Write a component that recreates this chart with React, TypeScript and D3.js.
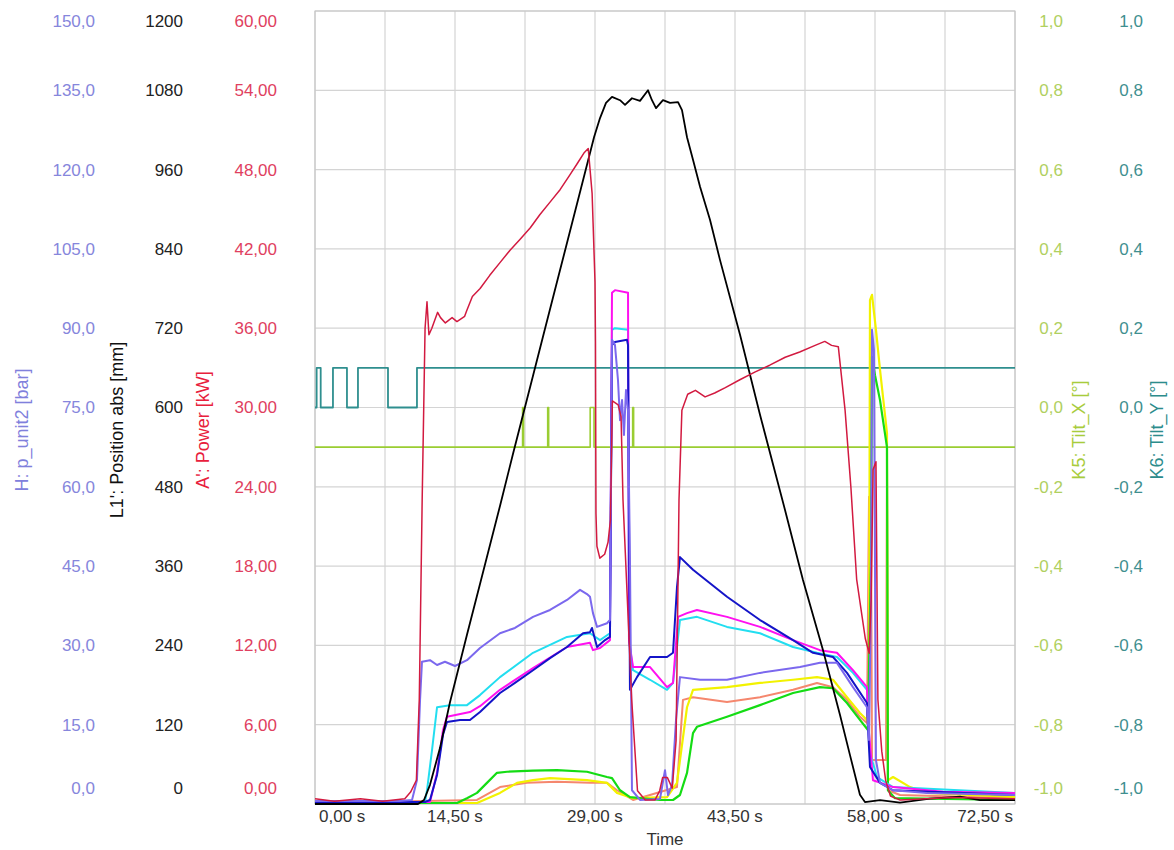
import * as d3 from 'd3'

type Pt = [number, number]

// time [s] / value pairs
const power: Pt[] = [
  [0, 0.4], [2.0, 0.2], [4.7, 0.4], [7.0, 0.2], [9.3, 0.4], [9.9, 0.9], [10.5, 1.8], [10.8, 7.9],
  [11.1, 23.0], [11.4, 36.0], [11.6, 38.0], [11.8, 35.5], [12.1, 36.0], [12.7, 37.2], [13.0, 36.8],
  [13.5, 36.4], [14.2, 36.8], [14.7, 36.5], [15.5, 36.9], [15.7, 37.3], [16.3, 38.4], [17.1, 39.0],
  [18.1, 40.0], [19.2, 41.0], [20.2, 41.9], [21.2, 42.7], [22.3, 43.6], [23.3, 44.6], [24.3, 45.5],
  [25.4, 46.5], [26.4, 47.6], [27.2, 48.5], [27.9, 49.3], [28.3, 49.6], [28.5, 47.9], [28.7, 46.2],
  [28.8, 44.0], [29.0, 39.5], [29.05, 35.0], [29.1, 22.0], [29.2, 19.5], [29.5, 18.6], [30.0, 18.9],
  [30.35, 19.8], [30.6, 21.5], [30.8, 30.5], [31.4, 30.2], [31.7, 29.3], [31.9, 23.0], [32.2, 18.0],
  [32.8, 7.9], [33.4, 1.0], [34.2, 0.3], [35.2, 0.3], [35.7, 1.0], [36.0, 2.0], [36.5, 2.0], [37.0, 1.2],
  [37.4, 4.8], [37.7, 23.0], [38.0, 29.8], [38.6, 31.0], [39.4, 31.3], [40.4, 30.8], [41.4, 31.1],
  [42.5, 31.5], [44.0, 32.1], [45.6, 32.7], [47.1, 33.2], [48.7, 33.8], [50.2, 34.2], [51.8, 34.7],
  [52.8, 35.0], [53.5, 34.7], [54.2, 34.6], [54.9, 29.8], [55.5, 24.0], [56.1, 17.0], [57.0, 12.5],
  [57.4, 11.4], [57.6, 15.4], [57.8, 25.3], [58.1, 25.9], [58.3, 7.9], [58.7, 4.0], [59.1, 1.8],
  [59.6, 0.6], [60.6, 0.3], [66.0, 0.5], [72.5, 0.4],
]

const positionAbs: Pt[] = [
  [0, 0], [10.67, 0], [11.29, 6], [11.91, 29], [12.95, 85], [13.98, 154], [15.74, 256], [17.09, 333],
  [19.16, 451], [20.51, 530], [22.58, 648], [23.61, 707], [25.38, 808], [27.45, 926], [28.9, 1009],
  [29.52, 1038], [30.14, 1061], [30.76, 1070], [31.59, 1065], [32.11, 1058], [32.83, 1068], [33.66, 1064],
  [34.49, 1080], [34.9, 1065], [35.32, 1053], [36.04, 1065], [36.77, 1061], [37.6, 1062], [38.01, 1050],
  [38.53, 1009], [39.15, 975], [39.88, 934], [40.91, 884], [41.95, 823], [44.02, 710], [46.09, 589],
  [48.68, 445], [50.54, 339], [52.61, 233], [54.37, 135], [55.41, 74], [56.44, 14], [56.96, 3],
  [58.52, 6], [60.59, 2], [63.7, 8], [66.8, 11], [68.87, 6], [72.5, 6],
]

const pUnit2: Pt[] = [
  [0, 0.57], [8.8, 0.57], [10.05, 0.76], [10.56, 4.54], [10.88, 19.7], [11.08, 26.9], [11.91, 27.2],
  [12.64, 26.3], [13.46, 26.9], [14.5, 26.1], [15.74, 27.2], [17.09, 29.5], [19.16, 32.3], [20.71, 33.3],
  [22.58, 35.4], [24.34, 36.7], [26.1, 38.6], [27.45, 40.5], [28.17, 39.7], [28.48, 39.2], [28.79, 36.1],
  [29.21, 33.5], [30.24, 34.2], [30.55, 34.8], [30.76, 87.8], [31.07, 86.8], [31.38, 80.2], [31.59, 72.6],
  [31.8, 76.4], [32.0, 69.8], [32.21, 78.3], [32.42, 74.5], [32.62, 46.2], [32.83, 2.6], [33.66, 0.76],
  [35.73, 0.95], [36.25, 6.4], [36.56, 1.7], [36.98, 3.6], [37.39, 15.9], [37.8, 24.0], [39.88, 23.5],
  [42.67, 23.5], [46.09, 24.8], [50.23, 25.9], [52.3, 26.7], [54.06, 26.7], [55.72, 22.1], [57.17, 18.3],
  [57.38, 12.1], [57.58, 38.6], [57.69, 89.7], [57.89, 85.9], [58.1, 8.3], [58.52, 4.0], [59.87, 2.6],
  [63.39, 2.1], [72.5, 1.7],
]

const chBlue: Pt[] = [
  [0, 0.38], [11.39, 0.38], [11.91, 0.76], [12.64, 5.5], [13.26, 13.1], [13.67, 15.5], [15.02, 15.9],
  [16.05, 15.9], [17.09, 17.4], [19.16, 21.0], [20.71, 22.9], [22.58, 25.3], [24.34, 27.6], [26.1, 29.7],
  [27.76, 32.3], [28.48, 32.5], [28.69, 33.3], [29.21, 29.7], [30.04, 31.0], [30.55, 31.6], [30.76, 86.8],
  [31.07, 87.4], [32.31, 87.8], [32.42, 86.8], [32.62, 21.6], [33.35, 24.0], [34.7, 27.8], [36.46, 27.8],
  [37.08, 28.6], [37.49, 41.0], [37.8, 46.7], [39.15, 44.3], [42.67, 39.2], [46.09, 34.8], [49.51, 31.0],
  [51.58, 28.6], [53.65, 27.8], [55.1, 24.8], [57.17, 19.1], [57.27, 14.6], [57.48, 7.0], [58.52, 4.0],
  [59.87, 2.6], [72.5, 1.7],
]

const chMagenta: Pt[] = [
  [0, 0.38], [11.91, 0.38], [12.64, 5.9], [13.26, 14.0], [13.67, 16.5], [16.05, 17.4], [17.09, 18.5],
  [19.16, 21.6], [22.58, 25.7], [26.1, 29.7], [28.48, 30.5], [28.79, 29.1], [29.52, 29.5], [30.55, 31.0],
  [30.76, 96.7], [31.07, 97.2], [32.42, 96.7], [32.52, 31.0], [32.94, 25.9], [34.7, 25.9], [36.46, 22.1],
  [37.08, 22.9], [37.6, 35.4], [38.53, 36.1], [39.56, 36.7], [42.67, 35.4], [46.09, 33.5], [49.51, 31.0],
  [52.3, 29.1], [54.06, 28.6], [55.72, 25.3], [57.17, 22.1], [57.27, 15.9], [57.79, 4.5], [59.87, 3.2],
  [65.04, 2.3], [72.5, 2.1],
]

const chCyan: Pt[] = [
  [0, 0.38], [11.39, 0.38], [11.6, 2.6], [12.12, 10.2], [12.64, 18.3], [13.98, 18.7], [15.74, 18.7],
  [17.09, 20.6], [19.16, 24.0], [22.58, 28.6], [26.1, 31.6], [28.48, 32.3], [29.52, 31.0], [30.55, 32.3],
  [30.76, 89.7], [31.07, 90.0], [32.42, 89.7], [32.52, 31.0], [32.94, 25.3], [34.7, 23.5], [36.46, 21.6],
  [37.08, 22.9], [37.8, 34.8], [39.56, 35.4], [42.67, 33.5], [46.09, 32.3], [49.51, 29.7], [51.99, 28.6],
  [54.06, 27.8], [55.72, 24.8], [57.17, 21.6], [57.48, 9.6], [58.21, 5.1], [59.87, 3.2], [72.5, 2.1],
]

const chGreen: Pt[] = [
  [0, 0.19], [14.71, 0.19], [15.74, 1.1], [16.78, 2.1], [17.81, 4.0], [18.85, 5.9], [19.89, 6.1],
  [22.58, 6.3], [25.06, 6.4], [28.17, 6.1], [30.24, 5.1], [30.76, 4.9], [31.59, 2.6], [32.62, 1.3],
  [35.73, 0.76], [37.08, 0.76], [37.8, 1.7], [38.53, 5.9], [39.15, 13.4], [39.56, 14.6], [42.67, 16.5],
  [46.09, 18.7], [49.51, 21.0], [52.3, 22.1], [53.65, 21.9], [55.1, 19.1], [56.44, 15.9], [57.27, 14.0],
  [57.58, 46.2], [57.69, 84.6], [58.0, 81.1], [58.52, 76.4], [59.24, 67.5], [59.34, 2.6], [60.07, 1.1],
  [72.5, 0.76],
]

const chYellow: Pt[] = [
  [0, 0.19], [16.78, 0.19], [19.16, 2.1], [20.92, 4.0], [22.58, 4.5], [24.34, 4.9], [28.17, 4.5],
  [30.24, 4.0], [31.28, 2.1], [32.94, 1.1], [36.46, 1.3], [37.49, 4.0], [38.53, 18.3], [39.15, 21.6],
  [42.67, 22.1], [46.09, 22.9], [49.51, 23.5], [51.99, 24.0], [53.65, 23.5], [55.1, 20.2], [56.44, 17.2],
  [57.17, 15.9], [57.38, 19.7], [57.48, 95.3], [57.69, 96.3], [58.1, 89.7], [58.52, 82.1], [59.24, 70.2],
  [59.34, 4.5], [59.87, 5.1], [61.63, 3.2], [63.39, 2.1], [72.5, 1.3],
]

const chSalmon: Pt[] = [
  [0, 0.19], [16.78, 0.76], [19.16, 3.2], [21.96, 4.0], [25.06, 4.2], [28.48, 4.0], [30.24, 4.0],
  [31.28, 2.6], [32.94, 0.76], [37.49, 3.2], [38.11, 19.7], [39.15, 20.2], [42.67, 19.3], [46.09, 20.2],
  [49.51, 21.6], [51.99, 22.9], [53.65, 22.1], [55.1, 19.7], [56.44, 16.5], [57.17, 15.3], [57.38, 58.1],
  [57.58, 58.1], [57.69, 8.3], [59.14, 8.3], [59.24, 66.4], [59.34, 2.6], [60.59, 1.7], [72.5, 1.1],
]

// tilt channels are step signals
const tiltX: Pt[] = [
  [0, -0.1], [21.5, 0], [21.6, -0.1], [24.1, 0], [24.2, -0.1], [28.5, 0], [28.9, -0.1], [32.9, 0],
  [33.0, -0.1], [72.5, -0.1],
]
const tiltY: Pt[] = [
  [0, 0], [0.17, 0.1], [0.59, 0], [1.86, 0.1], [3.31, 0], [4.45, 0.1], [7.56, 0], [10.56, 0.1], [72.5, 0.1],
]

const timeLabels = [0, 14.5, 29, 43.5, 58, 72.5]

const loc = d3.formatLocale({
  decimal: ',',
  thousands: '.',
  grouping: [3],
  currency: ['', ''],
  minus: '-',
})

export default function App() {
  const width = 1174
  const height = 850
  const plot = { left: 315, right: 1015, top: 11, bottom: 804 }

  const x = d3.scaleLinear().domain([0, 72.5]).range([plot.left, plot.right])
  const yBar = d3.scaleLinear().domain([0, 150]).range([plot.bottom, plot.top])
  const yMm = d3.scaleLinear().domain([0, 1200]).range([plot.bottom, plot.top])
  const yKw = d3.scaleLinear().domain([0, 60]).range([plot.bottom, plot.top])
  const yTilt = d3.scaleLinear().domain([-1, 1]).range([plot.bottom, plot.top])

  // label y is kept inside the plot frame, like the recorder software does
  const labelY = (y: number) => Math.min(Math.max(y, plot.top + 10), plot.bottom - 16)

  const leftAxes = [
    { scale: yBar, step: 15, fmt: loc.format('.1f'), x: 95, color: '#8686dc', title: 'H: p_unit2 [bar]', tx: 22, tc: '#8080dc' },
    { scale: yMm, step: 120, fmt: loc.format('.0f'), x: 183, color: '#222', title: "L1': Position abs [mm]", tx: 117, tc: '#111' },
    { scale: yKw, step: 6, fmt: loc.format('.2f'), x: 277, color: '#e04060', title: "A': Power [kW]", tx: 203, tc: '#e8203c' },
  ]
  const rightAxes = [
    { scale: yTilt, step: 0.2, fmt: loc.format('.1f'), x: 1063, color: '#b0d060', title: 'K5: Tilt_X [°]', tx: 1079, tc: '#a8cc3c' },
    { scale: yTilt, step: 0.2, fmt: loc.format('.1f'), x: 1143, color: '#3f8f8f', title: 'K6: Tilt_Y [°]', tx: 1157, tc: '#2c8c8c' },
  ]

  const hLines = d3.range(0, 150 + 1, 15).map((v) => yBar(v))
  const vLines = d3.range(0, 72.5 + 0.1, 7.25).map((t) => x(t))

  const line = (ys: d3.ScaleLinear<number, number>) =>
    d3.line<Pt>().x((d) => x(d[0])).y((d) => ys(d[1]))
  const stepLine = d3.line<Pt>().x((d) => x(d[0])).y((d) => yTilt(d[1])).curve(d3.curveStepAfter)
  const timeFmt = loc.format('.2f')

  const series: { data: Pt[]; color: string; w: number }[] = [
    { data: chSalmon, color: '#f5876e', w: 2 },
    { data: chYellow, color: '#f2f200', w: 2.2 },
    { data: chGreen, color: '#14dc14', w: 2.2 },
    { data: chCyan, color: '#22def0', w: 2 },
    { data: chMagenta, color: '#ff10f0', w: 2 },
    { data: chBlue, color: '#1414c8', w: 2 },
    { data: pUnit2, color: '#7b68ee', w: 2 },
  ]

  return (
    <svg
      width={width}
      height={height}
      style={{ position: 'absolute', left: 0, top: 0, background: '#fff' }}
      fontFamily="'Liberation Sans', Arial, sans-serif"
      fontSize={17}
    >
      <g className="grid" stroke="#d4d4d4" strokeWidth={1.2}>
        {hLines.map((y) => (
          <line key={y} x1={plot.left} x2={plot.right} y1={y} y2={y} />
        ))}
        {vLines.map((vx) => (
          <line key={vx} x1={vx} x2={vx} y1={plot.top} y2={plot.bottom} />
        ))}
      </g>
      <rect
        x={plot.left}
        y={plot.top}
        width={plot.right - plot.left}
        height={plot.bottom - plot.top}
        fill="none"
        stroke="#c4c4c4"
      />

      {leftAxes.map((a) => (
        <g key={a.title} className="y axis" textAnchor="end">
          {d3.range(0, a.scale.domain()[1] + a.step / 2, a.step).map((v) => (
            <text key={v} x={a.x} y={labelY(a.scale(v))} dy="0.35em" fill={a.color}>
              {a.fmt(v)}
            </text>
          ))}
          <text
            transform={`translate(${a.tx},430) rotate(-90)`}
            textAnchor="middle"
            dy="0.35em"
            fontSize={18}
            fill={a.tc}
          >
            {a.title}
          </text>
        </g>
      ))}
      {rightAxes.map((a) => (
        <g key={a.title} className="y axis" textAnchor="end">
          {d3.range(-1, 1 + a.step / 2, a.step).map((v) => (
            <text key={v} x={a.x} y={labelY(a.scale(v))} dy="0.35em" fill={a.color}>
              {a.fmt(Math.abs(v) < 1e-9 ? 0 : v)}
            </text>
          ))}
          <text
            transform={`translate(${a.tx},430) rotate(-90)`}
            textAnchor="middle"
            dy="0.35em"
            fontSize={18}
            fill={a.tc}
          >
            {a.title}
          </text>
        </g>
      ))}

      <g className="x axis" fill="#333">
        {timeLabels.map((t, i) => {
          const anchor = i === 0 ? 'start' : i === timeLabels.length - 1 ? 'end' : 'middle'
          const tx = i === 0 ? plot.left + 4 : i === timeLabels.length - 1 ? plot.right - 2 : x(t)
          return (
            <text key={t} x={tx} y={816} dy="0.35em" textAnchor={anchor}>
              {`${timeFmt(t)} s`}
            </text>
          )
        })}
        <text x={(plot.left + plot.right) / 2} y={839} dy="0.35em" textAnchor="middle">
          Time
        </text>
      </g>

      <g fill="none" strokeLinejoin="round">
        <path d={stepLine(tiltX)!} stroke="#9acd32" strokeWidth={1.6} />
        <path d={stepLine(tiltY)!} stroke="#2f8f8f" strokeWidth={1.8} />
        {series.map((s) => (
          <path key={s.color} d={line(yBar)(s.data)!} stroke={s.color} strokeWidth={s.w} />
        ))}
        <path d={line(yMm)(positionAbs)!} stroke="#000" strokeWidth={1.8} />
        <path d={line(yKw)(power)!} stroke="#d21a40" strokeWidth={1.5} />
      </g>
    </svg>
  )
}
